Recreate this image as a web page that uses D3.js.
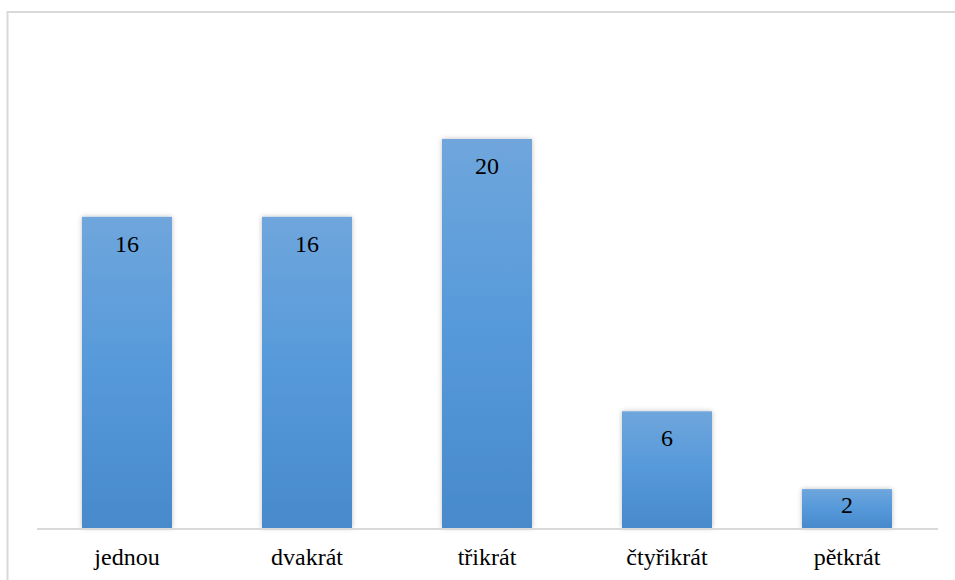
<!DOCTYPE html>
<html>
<head>
<meta charset="utf-8">
<script src="https://cdn.jsdelivr.net/npm/d3@7"></script>
<style>
  body { margin: 0; background: #fff; }
  svg { display: block; }
</style>
</head>
<body>
<script>
const categories = ["jednou", "dvakrát", "třikrát", "čtyřikrát", "pětkrát"];
const values = [16, 16, 20, 6, 2];

const W = 955, H = 580;
const serif = "'Liberation Serif', 'Times New Roman', serif";
const svg = d3.select("body").append("svg")
    .attr("width", W)
    .attr("height", H)

const defs = svg.append("defs")
const grad = defs.append("linearGradient")
    .attr("id", "barGrad")
    .attr("x1", 0).attr("y1", 0).attr("x2", 0).attr("y2", 1)
grad.append("stop").attr("offset", "0%").attr("stop-color", "#6fa6dc")
grad.append("stop").attr("offset", "50%").attr("stop-color", "#5599da")
grad.append("stop").attr("offset", "100%").attr("stop-color", "#488acb")

const shadow = defs.append("filter")
    .attr("id", "shadow")
    .attr("x", "-20%").attr("y", "-20%")
    .attr("width", "140%").attr("height", "140%")
shadow.append("feDropShadow")
    .attr("dx", 0).attr("dy", 0)
    .attr("stdDeviation", 2.5)
    .attr("flood-color", "#000")
    .attr("flood-opacity", 0.25)

// outer frame (right and bottom edges run off the picture)
svg.append("rect")
    .attr("x", 7.5).attr("y", 12)
    .attr("width", W + 20).attr("height", H + 20)
    .attr("fill", "none")
    .attr("stroke", "#d9d9d9")
    .attr("stroke-width", 2)

const x = d3.scaleBand()
    .domain(categories)
    .range([37, 937])
    .paddingInner(0.5)
    .paddingOuter(0.25)

const y = d3.scaleLinear()
    .domain([0, 20])
    .range([528, 139])

const data = categories.map((c, i) => ({cat: c, value: values[i]}))

svg.selectAll("rect.bar")
    .data(data)
    .enter()
    .append("rect")
    .attr("class", "bar")
    .attr("x", d => x(d.cat))
    .attr("y", d => y(d.value))
    .attr("width", x.bandwidth())
    .attr("height", d => y(0) - y(d.value))
    .attr("fill", "url(#barGrad)")
    .attr("filter", "url(#shadow)")

// baseline
svg.append("line")
    .attr("x1", 37).attr("x2", 938)
    .attr("y1", y(0) + 1).attr("y2", y(0) + 1)
    .attr("stroke", "#d9d9d9")
    .attr("stroke-width", 2)

// value labels, inside end; short bars keep the label off the baseline
svg.selectAll("text.val")
    .data(data)
    .enter()
    .append("text")
    .attr("class", "val")
    .attr("x", d => x(d.cat) + x.bandwidth() / 2)
    .attr("y", d => Math.min(y(d.value) + 35, y(0) - 15))
    .attr("text-anchor", "middle")
    .style("font-family", serif)
    .style("font-size", "24px")
    .style("fill", "#000")
    .text(d => d.value)

const xAxis = svg.append("g")
    .attr("transform", `translate(0,${y(0)})`)
    .call(d3.axisBottom(x).tickSize(0).tickPadding(20))
xAxis.select(".domain").remove()
xAxis.selectAll("text")
    .style("font-family", serif)
    .style("font-size", "24px")
    .style("fill", "#000")
</script>
</body>
</html>
